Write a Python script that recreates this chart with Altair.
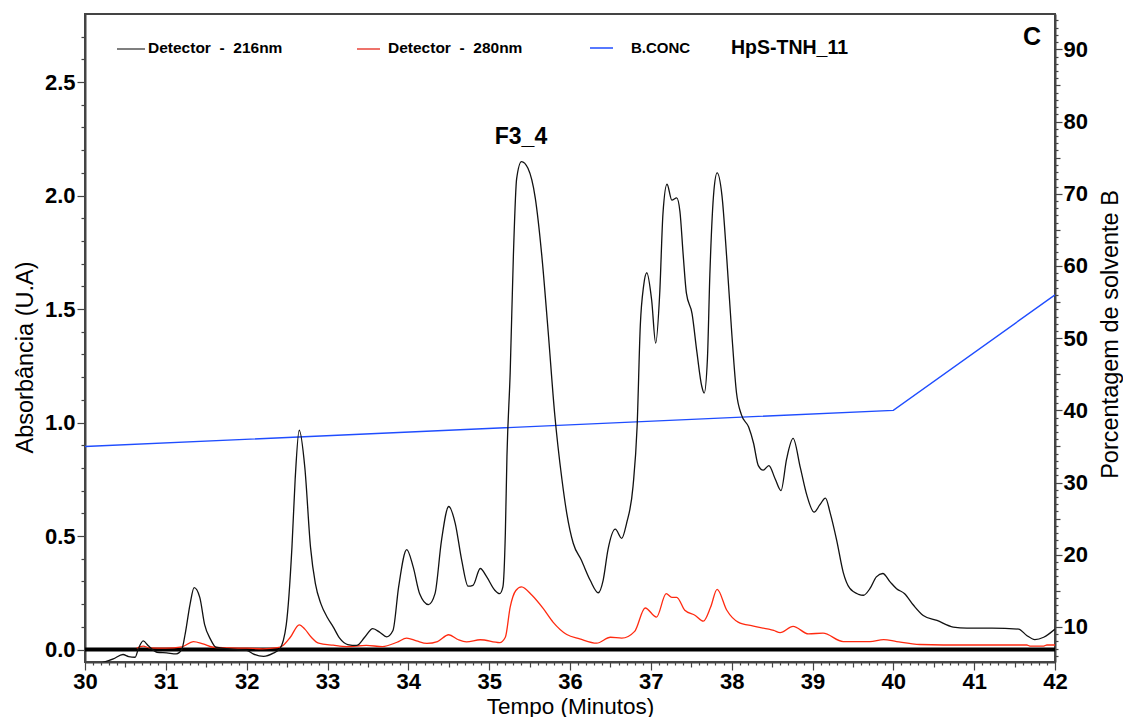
import altair as alt
import pandas as pd

# ---------------- data ----------------
t216 = [30.19, 30.35, 30.47, 30.54, 30.62, 30.66, 30.72, 30.78, 30.85, 30.89,
        31.01, 31.13, 31.20, 31.24, 31.30, 31.35, 31.42, 31.48, 31.55, 31.62,
        31.80, 32.00, 32.08, 32.21, 32.33, 32.41, 32.49, 32.56, 32.60, 32.65,
        32.72, 32.79, 32.85, 32.92, 33.00, 33.07, 33.15, 33.25, 33.36, 33.46,
        33.56, 33.65, 33.73, 33.81, 33.88, 33.98, 34.06, 34.14, 34.25, 34.33,
        34.41, 34.50, 34.58, 34.66, 34.74, 34.80, 34.89, 34.97, 35.07, 35.13,
        35.17, 35.20, 35.22, 35.26, 35.30, 35.34, 35.40, 35.48, 35.57, 35.65,
        35.73, 35.81, 35.90, 35.96, 36.04, 36.14, 36.25, 36.35, 36.41, 36.47,
        36.56, 36.64, 36.70, 36.78, 36.83, 36.87, 36.91, 36.95, 37.01, 37.06,
        37.11, 37.15, 37.20, 37.26, 37.32, 37.36, 37.40, 37.44, 37.51, 37.57,
        37.63, 37.66, 37.70, 37.73, 37.78, 37.82, 37.88, 37.94, 38.00, 38.06,
        38.12, 38.21, 38.27, 38.33, 38.39, 38.46, 38.54, 38.61, 38.68, 38.76,
        38.85, 38.93, 39.02, 39.09, 39.16, 39.22, 39.30, 39.38, 39.46, 39.57,
        39.63, 39.71, 39.79, 39.87, 39.96, 40.04, 40.14, 40.25, 40.37, 40.54,
        40.74, 40.91, 41.22, 41.55, 41.65, 41.75, 41.86, 42.00]
a216 = [-0.060, -0.041, -0.022, -0.031, -0.034, 0.003, 0.038, 0.018, -0.004, -0.012,
        -0.015, -0.019, 0.003, 0.070, 0.200, 0.273, 0.230, 0.110, 0.047, 0.010,
        0.002, -0.004, -0.019, -0.030, -0.016, 0.003, 0.110, 0.450, 0.750, 0.966,
        0.800, 0.450, 0.290, 0.200, 0.140, 0.100, 0.050, 0.022, 0.018, 0.054,
        0.092, 0.075, 0.056, 0.084, 0.276, 0.440, 0.364, 0.246, 0.198, 0.246,
        0.480, 0.630, 0.556, 0.394, 0.279, 0.283, 0.357, 0.320, 0.261, 0.246,
        0.276, 0.510, 0.850, 1.220, 1.740, 2.075, 2.150, 2.120, 1.990, 1.740,
        1.400, 1.040, 0.750, 0.600, 0.468, 0.394, 0.305, 0.250, 0.305, 0.440,
        0.530, 0.490, 0.556, 0.720, 0.980, 1.430, 1.600, 1.660, 1.540, 1.350,
        1.570, 1.920, 2.050, 1.980, 1.990, 1.930, 1.740, 1.570, 1.480, 1.310,
        1.160, 1.130, 1.280, 1.650, 2.020, 2.100, 2.000, 1.720, 1.400, 1.130,
        1.035, 0.980, 0.910, 0.810, 0.790, 0.810, 0.750, 0.700, 0.840, 0.930,
        0.800, 0.680, 0.605, 0.637, 0.667, 0.600, 0.480, 0.340, 0.270, 0.243,
        0.239, 0.268, 0.320, 0.335, 0.298, 0.268, 0.246, 0.195, 0.150, 0.128,
        0.099, 0.094, 0.094, 0.090, 0.062, 0.044, 0.054, 0.090]

t280 = [30.64, 30.72, 30.80, 31.00, 31.20, 31.34, 31.46, 31.59, 31.80, 32.00,
        32.20, 32.38, 32.45, 32.54, 32.65, 32.72, 32.80, 32.89, 33.07, 33.24,
        33.48, 33.68, 33.86, 33.98, 34.10, 34.23, 34.36, 34.50, 34.62, 34.72,
        34.89, 35.13, 35.20, 35.26, 35.33, 35.40, 35.53, 35.67, 35.79, 35.96,
        36.12, 36.33, 36.50, 36.64, 36.80, 36.93, 37.07, 37.19, 37.26, 37.32,
        37.42, 37.55, 37.65, 37.74, 37.82, 37.94, 38.08, 38.27, 38.52, 38.60,
        38.76, 38.95, 39.13, 39.38, 39.71, 39.88, 40.04, 40.33, 40.62, 41.65,
        41.69, 41.86, 41.90, 42.00]
a280 = [0.006, 0.015, 0.007, 0.006, 0.012, 0.035, 0.025, 0.010, 0.007, 0.006,
        0.003, 0.008, 0.018, 0.054, 0.109, 0.090, 0.054, 0.028, 0.019, 0.013,
        0.018, 0.013, 0.032, 0.050, 0.038, 0.027, 0.035, 0.065, 0.043, 0.034,
        0.043, 0.030, 0.054, 0.187, 0.260, 0.276, 0.239, 0.180, 0.121, 0.066,
        0.047, 0.028, 0.054, 0.050, 0.080, 0.183, 0.143, 0.246, 0.230, 0.230,
        0.173, 0.150, 0.125, 0.187, 0.265, 0.173, 0.121, 0.103, 0.084, 0.074,
        0.102, 0.069, 0.072, 0.035, 0.035, 0.044, 0.035, 0.022, 0.020, 0.020,
        0.015, 0.015, 0.020, 0.020]

t_conc = [30.0, 40.0, 42.0]
b_conc = [35.0, 40.0, 56.0]

x_ticks = [round(30 + 0.1 * i, 1) for i in range(121)]
left_ticks = [round(0.1 * i, 1) for i in range(0, 28)]
right_ticks = list(range(6, 95))

df216 = pd.DataFrame({"t": t216, "A": a216})
df280 = pd.DataFrame({"t": t280, "A": a280})
dfconc = pd.DataFrame({"t": t_conc, "B": b_conc})

FONT = "Liberation Sans"
AX = "#444444"
TITLE_SIZE = 23.5

x_scale = alt.Scale(domain=[30, 42], nice=False, zero=False)
left_scale = alt.Scale(domain=[-0.055, 2.80], nice=False, zero=False)
right_scale = alt.Scale(domain=[5.15, 94.9], nice=False, zero=False)

x_axis = alt.Axis(
    values=x_ticks,
    labelExpr="abs(datum.value - round(datum.value)) < 0.01 ? format(datum.value, 'd') : ''",
    tickSize={"condition": [
        {"test": "abs(datum.value - round(datum.value)) < 0.01", "value": 8},
        {"test": "abs(datum.value*2 - round(datum.value*2)) < 0.01", "value": 5}],
        "value": 3},
    labelOverlap=False, labelFlush=False, grid=False,
    labelPadding=1, titleY=51, titleBaseline="alphabetic", titleFontSize=22.5,
)
left_axis = alt.Axis(
    orient="left", values=left_ticks,
    labelExpr="abs(datum.value*2 - round(datum.value*2)) < 0.01 ? format(datum.value, '.1f') : ''",
    tickSize={"condition": {"test": "abs(datum.value*2 - round(datum.value*2)) < 0.01", "value": 8},
              "value": 4},
    labelOverlap=False, labelFlush=False, grid=False,
    labelPadding=2, titlePadding=7, titleY=343,
)
right_axis = alt.Axis(
    orient="right", values=right_ticks,
    labelExpr="datum.value % 10 === 0 ? format(datum.value, 'd') : ''",
    tickSize={"condition": [
        {"test": "datum.value % 10 === 0", "value": 7},
        {"test": "datum.value % 5 === 0", "value": 5}],
        "value": 3},
    labelOverlap=False, labelFlush=False, grid=False,
    labelPadding=1, titleAngle=270, titleX=55, titleY=320,
    titleBaseline="middle", titleAlign="center",
)

X = alt.X("t:Q", scale=x_scale, axis=x_axis, title="Tempo (Minutos)")
Y_LEFT = dict(scale=left_scale, axis=left_axis, title="Absorbância (U.A)")

baseline = alt.Chart(alt.Data(values=[{"z": 0}])).mark_rule(
    color="black", strokeWidth=4
).encode(y=alt.Y("z:Q", **Y_LEFT))

line280 = alt.Chart(df280).mark_line(
    color="#ff2a10", strokeWidth=1.3, interpolate="monotone", clip=True
).encode(x=X, y=alt.Y("A:Q", **Y_LEFT))

line216 = alt.Chart(df216).mark_line(
    color="#111111", strokeWidth=1.3, interpolate="monotone", clip=True
).encode(x=X, y=alt.Y("A:Q", **Y_LEFT))

conc = alt.Chart(dfconc).mark_line(
    color="#1f4dff", strokeWidth=1.4, clip=True
).encode(
    x=X,
    y=alt.Y("B:Q", scale=right_scale, axis=right_axis, title="Porcentagem de solvente B"),
)

one = alt.Data(values=[{}])


def label(text, x, y, size, align="left", color="black", weight="bold"):
    return alt.Chart(one).mark_text(
        text=text, align=align, baseline="middle", font=FONT,
        fontSize=size, fontWeight=weight, color=color
    ).encode(x=alt.value(x), y=alt.value(y))


def swatch(x1, x2, y, color):
    return alt.Chart(one).mark_rule(color=color, strokeWidth=1.5).encode(
        x=alt.value(x1), x2=alt.value(x2), y=alt.value(y))


annotations = [
    swatch(32, 60, 35, "#555555"),
    label("Detector\u00a0\u00a0-\u00a0\u00a0216nm", 63, 34, 15.5),
    swatch(272, 295, 35, "#e8443a"),
    label("Detector\u00a0\u00a0-\u00a0\u00a0280nm", 303, 34, 15.5),
    swatch(505, 528, 34, "#1f4dff"),
    label("B.CONC", 546, 34, 15),
    label("HpS-TNH_11", 646, 34, 19.5),
    label("C", 947, 23, 25, align="center"),
    label("F3_4", 436, 123, 23, align="center"),
]

left_layer = alt.layer(baseline, line280, line216, *annotations)

chart = alt.layer(conc, left_layer).resolve_scale(y="independent").properties(
    width=970, height=648,
    padding={"left": 77, "top": 6, "right": 68, "bottom": 55},
    autosize=alt.AutoSizeParams(type="none"),
).configure_view(
    stroke=AX, strokeWidth=2
).configure_axis(
    labelFont=FONT, titleFont=FONT, labelFontSize=22, labelFontWeight="bold",
    labelColor="black", titleFontSize=TITLE_SIZE, titleFontWeight="normal", titleColor="black",
    domainColor=AX, domainWidth=2, tickColor=AX, tickWidth=1.2,
)

chart.save("out.html", embed_options={"renderer": "svg", "actions": False})
